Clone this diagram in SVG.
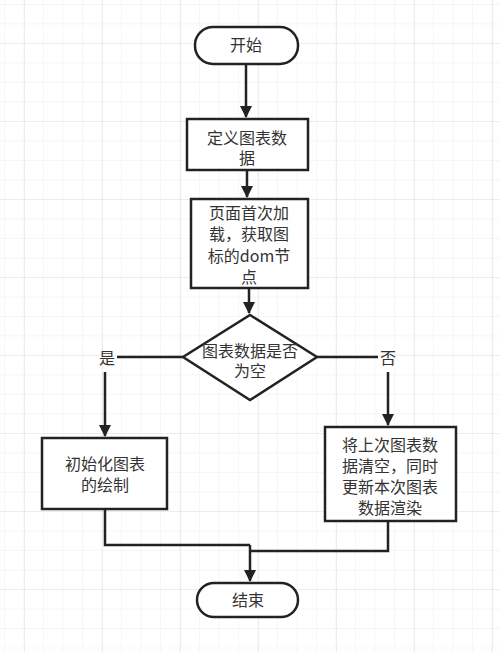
<svg xmlns="http://www.w3.org/2000/svg" width="500" height="652" viewBox="0 0 500 652">
<defs>
<pattern id="minor" x="4" y="4" width="19.5" height="19.5" patternUnits="userSpaceOnUse">
<path d="M0 0H19.5M0 0V19.5" fill="none" stroke="#eeeeee" stroke-width="1"/>
</pattern>
<pattern id="major" x="24" y="43" width="78" height="78" patternUnits="userSpaceOnUse">
<path d="M0 0H78M0 0V78" fill="none" stroke="#e2e2e2" stroke-width="1.2"/>
</pattern>
<marker id="arr" viewBox="0 0 12 12" refX="11" refY="6" markerWidth="12" markerHeight="12" markerUnits="userSpaceOnUse" orient="auto">
<path d="M0 0L12 6L0 12Z" fill="#222"/>
</marker>
</defs>
<style>
.shape{fill:#fff;stroke:#222;stroke-width:2.5}
.t{font-family:"Noto Sans CJK SC","Noto Sans",sans-serif;font-size:16px;fill:#333;text-anchor:middle}
.c{fill:none;stroke:#222;stroke-width:2.5}
</style>
<rect width="500" height="652" fill="#fff"/>
<rect width="500" height="652" fill="url(#minor)"/>
<rect width="500" height="652" fill="url(#major)"/>
<g id="connectors">
<path class="c" d="M246 64V117" marker-end="url(#arr)"/>
<path class="c" d="M247 170V197" marker-end="url(#arr)"/>
<path class="c" d="M249 288V313" marker-end="url(#arr)"/>
<path class="c" d="M183 357H117"/>
<path class="c" d="M105 372V436" marker-end="url(#arr)"/>
<path class="c" d="M317 357H378"/>
<path class="c" d="M388 372V425" marker-end="url(#arr)"/>
<path class="c" d="M105 509V545H250"/>
<path class="c" d="M388 521V551H250"/>
<path class="c" d="M250 545V581" marker-end="url(#arr)"/>
<text class="t" x="107" y="364">是</text>
<text class="t" x="388" y="364">否</text>
</g>
<g id="start">
<rect class="shape" x="195" y="27" width="103" height="37" rx="18"/>
<text class="t" x="246" y="51">开始</text>
</g>
<g id="define">
<rect class="shape" x="187" y="119" width="121" height="51"/>
<text class="t" x="247" y="144">定义图表数</text>
<text class="t" x="247" y="164">据</text>
</g>
<g id="load">
<rect class="shape" x="191" y="199" width="117" height="89"/>
<text class="t" x="249" y="219">页面首次加</text>
<text class="t" x="249" y="240">载，获取图</text>
<text class="t" x="249" y="262">标的dom节</text>
<text class="t" x="249" y="283">点</text>
</g>
<g id="decision">
<path class="shape" d="M250 315L317 357L250 400L183 357Z"/>
<text class="t" x="250" y="357">图表数据是否</text>
<text class="t" x="250" y="377">为空</text>
</g>
<g id="init">
<rect class="shape" x="42" y="438" width="125" height="71"/>
<text class="t" x="105" y="470">初始化图表</text>
<text class="t" x="105" y="491">的绘制</text>
</g>
<g id="clear">
<rect class="shape" x="325" y="427" width="131" height="94"/>
<text class="t" x="390" y="451">将上次图表数</text>
<text class="t" x="390" y="472">据清空，同时</text>
<text class="t" x="390" y="493">更新本次图表</text>
<text class="t" x="390" y="514">数据渲染</text>
</g>
<g id="end">
<rect class="shape" x="197" y="583" width="101" height="34" rx="17"/>
<text class="t" x="248" y="606">结束</text>
</g>
</svg>
